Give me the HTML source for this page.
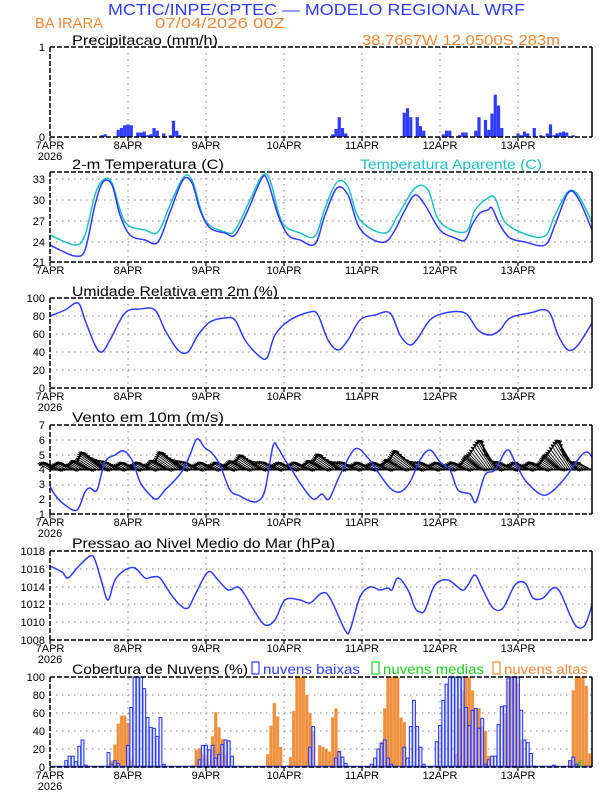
<!DOCTYPE html>
<html><head><meta charset="utf-8">
<style>
html,body{margin:0;padding:0;background:#fff;}
svg{display:block;}
text{font-family:"Liberation Sans",sans-serif;}
.t{font-size:14px;fill:#000;}
</style></head><body>
<svg id="s" width="612" height="792" viewBox="0 0 612 792" xmlns="http://www.w3.org/2000/svg">
<text x="108" y="15" font-size="16" fill="#2f3cff" textLength="417" lengthAdjust="spacingAndGlyphs">MCTIC/INPE/CPTEC — MODELO REGIONAL WRF</text>
<text x="35" y="28" font-size="15" fill="#f0883a" textLength="68" lengthAdjust="spacingAndGlyphs">BA IRARA</text>
<text x="155" y="28" font-size="15" fill="#f0883a" textLength="130" lengthAdjust="spacingAndGlyphs">07/04/2026 00Z</text>
<text x="362" y="45" font-size="15" fill="#f0883a" textLength="198" lengthAdjust="spacingAndGlyphs">38.7667W 12.0500S 283m</text>
<text class="t" x="72" y="45" textLength="146" lengthAdjust="spacingAndGlyphs">Precipitacao (mm/h)</text>
<text class="t" x="72" y="169" textLength="152" lengthAdjust="spacingAndGlyphs">2-m Temperatura (C)</text>
<text x="360" y="169" font-size="14" fill="#20c0c0" textLength="182" lengthAdjust="spacingAndGlyphs">Temperatura Aparente (C)</text>
<text class="t" x="72" y="296" textLength="206" lengthAdjust="spacingAndGlyphs">Umidade Relativa em 2m (%)</text>
<text class="t" x="72" y="422" textLength="152" lengthAdjust="spacingAndGlyphs">Vento em 10m (m/s)</text>
<text class="t" x="72" y="548" textLength="263" lengthAdjust="spacingAndGlyphs">Pressao ao Nivel Medio do Mar (hPa)</text>
<text class="t" x="72" y="674" textLength="176" lengthAdjust="spacingAndGlyphs">Cobertura de Nuvens (%)</text>
<rect x="252" y="662" width="7" height="12" fill="none" stroke="#2f3cff" stroke-width="1.2"/>
<text x="263" y="674" font-size="14" fill="#2f3cff" textLength="97" lengthAdjust="spacingAndGlyphs">nuvens baixas</text>
<rect x="372" y="662" width="7" height="12" fill="none" stroke="#20d020" stroke-width="1.2"/>
<text x="383" y="674" font-size="14" fill="#20d020" textLength="101" lengthAdjust="spacingAndGlyphs">nuvens medias</text>
<rect x="493" y="662" width="7" height="12" fill="none" stroke="#f0883a" stroke-width="1.2"/>
<text x="504" y="674" font-size="14" fill="#f0883a" textLength="84" lengthAdjust="spacingAndGlyphs">nuvens altas</text>
<g font-size="11" text-anchor="end" fill="#000">
<text x="45" y="51">1</text><text x="45" y="141">0</text>
<text x="45" y="183">33</text><text x="45" y="204">30</text><text x="45" y="225">27</text><text x="45" y="246">24</text><text x="45" y="266">21</text>
<text x="45" y="302">100</text><text x="45" y="320">80</text><text x="45" y="338">60</text><text x="45" y="356">40</text><text x="45" y="374">20</text><text x="45" y="392">0</text>
<text x="45" y="429">7</text><text x="45" y="444">6</text><text x="45" y="459">5</text><text x="45" y="473">4</text><text x="45" y="488">3</text><text x="45" y="503">2</text><text x="45" y="518">1</text>
<text x="45" y="555">1018</text><text x="45" y="573">1016</text><text x="45" y="591">1014</text><text x="45" y="608">1012</text><text x="45" y="626">1010</text><text x="45" y="644">1008</text>
<text x="45" y="681">100</text><text x="45" y="699">80</text><text x="45" y="717">60</text><text x="45" y="735">40</text><text x="45" y="753">20</text><text x="45" y="771">0</text>
</g>
<g font-size="11" text-anchor="middle" fill="#000">
<text x="50" y="149">7APR</text><text x="50" y="160">2026</text><text x="128" y="149">8APR</text><text x="206" y="149">9APR</text><text x="284" y="149">10APR</text><text x="362" y="149">11APR</text><text x="440" y="149">12APR</text><text x="518" y="149">13APR</text>
<text x="50" y="274">7APR</text><text x="128" y="274">8APR</text><text x="206" y="274">9APR</text><text x="284" y="274">10APR</text><text x="362" y="274">11APR</text><text x="440" y="274">12APR</text><text x="518" y="274">13APR</text>
<text x="50" y="400">7APR</text><text x="50" y="411">2026</text><text x="128" y="400">8APR</text><text x="206" y="400">9APR</text><text x="284" y="400">10APR</text><text x="362" y="400">11APR</text><text x="440" y="400">12APR</text><text x="518" y="400">13APR</text>
<text x="50" y="526">7APR</text><text x="50" y="537">2026</text><text x="128" y="526">8APR</text><text x="206" y="526">9APR</text><text x="284" y="526">10APR</text><text x="362" y="526">11APR</text><text x="440" y="526">12APR</text><text x="518" y="526">13APR</text>
<text x="50" y="652">7APR</text><text x="50" y="663">2026</text><text x="128" y="652">8APR</text><text x="206" y="652">9APR</text><text x="284" y="652">10APR</text><text x="362" y="652">11APR</text><text x="440" y="652">12APR</text><text x="518" y="652">13APR</text>
<text x="50" y="779">7APR</text><text x="50" y="790">2026</text><text x="128" y="779">8APR</text><text x="206" y="779">9APR</text><text x="284" y="779">10APR</text><text x="362" y="779">11APR</text><text x="440" y="779">12APR</text><text x="518" y="779">13APR</text>
</g>
<g id="g"></g>
</svg>
<script>
var NS="http://www.w3.org/2000/svg",G=document.getElementById("g");
function el(t,a){var e=document.createElementNS(NS,t);for(var k in a)e.setAttribute(k,a[k]);G.appendChild(e);return e;}
var L=50,R=592,D=78;
function X(h){return L+h*3.25;}
var panels=[[47,137,[]],[172,262,[179,200,221,242]],[298,388,[316,334,352,370]],[425,514,[440,455,470,485,499]],[551,640,[569,587,604,622]],[677,767,[695,713,731,749]]];
panels.forEach(function(p){
 for(var d=1;d<=6;d++)el("line",{x1:L+d*D,x2:L+d*D,y1:p[0],y2:p[1],stroke:"#999","stroke-dasharray":"1.5,4.5","stroke-width":1.2});
 p[2].forEach(function(y){el("line",{x1:L,x2:R,y1:y,y2:y,stroke:"#999","stroke-dasharray":"1.5,4.5","stroke-width":1.2});});
});
function smooth(pts,col,w){
 var d="M"+pts[0][0]+","+pts[0][1];
 for(var i=0;i<pts.length-1;i++){var p0=pts[Math.max(0,i-1)],p1=pts[i],p2=pts[i+1],p3=pts[Math.min(pts.length-1,i+2)];
  d+=" C"+(p1[0]+(p2[0]-p0[0])/6)+","+(p1[1]+(p2[1]-p0[1])/6)+" "+(p2[0]-(p3[0]-p1[0])/6)+","+(p2[1]-(p3[1]-p1[1])/6)+" "+p2[0]+","+p2[1];}
 el("path",{d:d,fill:"none",stroke:col,"stroke-width":w||1.5});
}
var pr=[[16,.02],[17,.03],[21,.08],[22,.1],[23,.13],[24,.14],[25,.13],[27,.05],[28,.05],[29,.06],[30,.02],[31,.03],[32,.1],[33,.07],[35,.04],[37,.02],[38,.18],[39,.07],[40,.02],[87,.03],[88,.09],[89,.22],[90,.1],[91,.04],[109,.27],[110,.32],[111,.22],[113,.22],[114,.12],[115,.07],[121,.03],[122,.07],[123,.07],[126,.02],[127,.05],[128,.05],[131,.07],[132,.22],[134,.19],[135,.08],[136,.26],[137,.47],[138,.35],[139,.1],[144,.04],[145,.02],[146,.06],[147,.04],[149,.1],[151,.02],[153,.04],[154,.14],[155,.02],[156,.04],[157,.05],[158,.06],[159,.05],[161,.02]];
pr.forEach(function(b){var h=b[1]*90;el("rect",{x:X(b[0])-1.6,y:137-h,width:3.2,height:h,fill:"#2f3cff"});});
smooth([[50,235],[75,245],[85,235],[95,195],[103,180],[112,183],[125,222],[145,230],[158,232],[170,205],[183,178],[192,180],[205,220],[225,232],[235,230],[250,200],[262,176],[270,180],[282,222],[300,233],[315,236],[325,208],[337,182],[348,187],[360,220],[385,233],[398,215],[415,188],[428,190],[440,222],[465,232],[475,210],[488,198],[495,198],[505,222],[525,234],[545,236],[555,215],[568,192],[578,195],[592,222]],"#20c0c0");
smooth([[50,245],[60,250],[75,256],[85,250],[95,205],[103,182],[112,185],[120,215],[130,235],[145,240],[158,242],[170,212],[183,180],[192,183],[200,210],[210,228],[225,233],[235,235],[248,210],[262,178],[268,182],[278,215],[288,235],[300,240],[315,244],[325,215],[337,188],[348,195],[358,225],[370,238],[385,242],[395,230],[405,210],[415,195],[425,205],[440,230],[455,238],[465,240],[472,225],[480,213],[488,210],[492,208],[500,225],[510,238],[525,242],[545,245],[555,225],[568,193],[578,198],[592,230]],"#2f3cff");
smooth([[50,316],[65,310],[78,303],[85,320],[95,345],[102,352],[110,340],[125,313],[140,309],[155,310],[165,330],[178,350],[188,352],[198,335],[210,322],[225,318],[235,320],[245,340],[258,355],[267,358],[275,335],[290,320],[310,312],[318,315],[328,340],[338,350],[348,340],[360,320],[375,315],[390,313],[400,335],[410,345],[418,338],[430,320],[445,313],[465,313],[478,330],[490,335],[500,330],[510,318],[530,313],[548,311],[558,335],[568,350],[578,345],[592,323]],"#2f3cff");
// wind barbs
for(var h=0;h<=166;h+=0.5){
 var x=X(h),frac=(h%24)/24,day=Math.floor(h/24);
 var amp=[0.8,0.8,0.6,0.65,0.85,1.0,1.0][day];
 var df=frac-0.72; if(df<-0.5)df+=1;
 var f=df<0?Math.exp(-Math.pow(df/0.2,2)):Math.exp(-Math.pow(df/0.09,2));
 var yb=470-1.5*Math.sin(h*1.3);
 var len=13+18*f*amp, ang=0.3+0.35*f*amp;
 if(day>=5) ang+=0.35*f;
 var tx=x-len*Math.cos(ang),ty=yb-3-len*Math.sin(ang);
 el("line",{x1:x,y1:yb,x2:tx,y2:ty,stroke:"#000","stroke-width":0.9});
 el("path",{d:"M"+tx+","+ty+" l4,0.5 l-1.5,3 z",fill:"#000"});
}
el("line",{x1:50,x2:592,y1:469.5,y2:469.5,stroke:"#000","stroke-width":2});
smooth([[50,486],[55,495],[65,505],[77,510],[85,492],[90,488],[97,490],[105,462],[115,455],[124,451],[133,462],[140,482],[150,495],[157,499],[165,490],[175,480],[183,470],[190,455],[197,439],[205,448],[212,453],[220,465],[230,490],[240,496],[250,501],[258,501],[265,490],[273,446],[278,448],[285,460],[292,470],[300,483],[313,499],[322,494],[329,499],[340,475],[355,449],[368,458],[378,472],[390,488],[400,492],[410,482],[420,460],[430,450],[440,462],[450,470],[458,490],[470,494],[476,502],[485,475],[495,470],[507,450],[515,462],[525,480],[540,494],[550,493],[565,478],[580,457],[587,452],[592,457]],"#2f3cff");
smooth([[50,566],[62,572],[68,578],[78,567],[90,556],[95,560],[102,583],[108,600],[115,580],[125,570],[135,568],[145,578],[152,577],[160,578],[170,593],[180,605],[188,608],[195,595],[208,572],[218,580],[228,590],[238,587],[245,595],[255,612],[265,625],[275,620],[285,600],[300,600],[310,603],[322,593],[330,598],[345,630],[350,630],[360,597],[370,587],[380,590],[388,588],[392,590],[398,578],[408,590],[415,608],[420,612],[425,610],[435,585],[448,580],[462,590],[468,585],[475,575],[483,590],[493,608],[503,608],[515,585],[525,583],[533,598],[543,598],[553,588],[560,592],[570,615],[577,627],[585,625],[592,605]],"#2f3cff");
var hi={19:7,20:25,21:48,22:57,23:57,24:49,25:8,44:2,45:19,46:21,47:14,48:13,49:3,50:34,51:61,52:44,53:31,54:15,67:14,68:46,69:71,70:56,71:22,73:2,74:11,75:62,76:100,77:100,78:100,79:80,80:60,81:40,83:24,84:22,85:20,86:17,87:55,88:65,89:18,102:28,103:65,104:100,105:100,106:100,107:100,108:55,109:50,125:15,126:65,127:85,128:100,129:100,130:85,131:65,132:65,133:45,134:40,135:12,140:60,141:95,142:100,143:100,144:92,145:30,160:7,161:85,162:100,163:100,164:100,165:90,166:15};
for(var k in hi){var v=hi[k]*0.9;el("rect",{x:X(+k)-1.5,y:767-v,width:3,height:v,fill:"#f0903f",stroke:"#f4b070","stroke-width":0.5});}
var lo={5:7,6:12,7:12,8:6,9:23,10:30,11:2,18:16,19:3,20:7,21:4,24:24,25:66,26:100,27:100,28:100,29:87,30:55,31:44,32:43,33:34,34:55,35:3,46:8,47:24,48:24,49:19,50:24,51:10,52:14,53:25,54:30,55:29,56:12,80:22,81:45,88:10,89:17,90:11,91:4,99:3,100:10,101:20,102:26,103:30,104:10,105:3,109:22,110:10,111:45,112:74,113:45,114:22,115:3,119:28,120:46,121:74,122:92,123:100,124:100,125:100,126:100,127:100,128:66,129:46,130:63,131:65,132:43,133:54,134:3,135:8,136:12,137:12,138:47,139:67,140:68,141:98,142:100,143:100,144:100,145:63,146:30,147:27,148:15,149:1,155:2,160:7,161:11,162:3};
for(var k in lo){var v=lo[k]*0.9;el("rect",{x:X(+k)-1.4,y:767-v,width:2.8,height:v,fill:"rgba(210,220,255,0.5)",stroke:"#2f3cff","stroke-width":1.1});}
el("line",{x1:50,x2:592,y1:766.5,y2:766.5,stroke:"#2f3cff","stroke-width":1.5});
el("rect",{x:X(163)-1,y:762,width:2,height:5,fill:"none",stroke:"#20d020","stroke-width":1});
panels.forEach(function(p){
 el("line",{x1:L,x2:R,y1:p[0],y2:p[0],stroke:"#000","stroke-width":1.5,"stroke-dasharray":"5,2"});
 el("line",{x1:L,x2:R,y1:p[1],y2:p[1],stroke:"#000","stroke-width":1.5,"stroke-dasharray":"5,2"});
 el("line",{x1:L,x2:L,y1:p[0],y2:p[1],stroke:"#000","stroke-width":1.5,"stroke-dasharray":"5,2"});
 el("line",{x1:R,x2:R,y1:p[0],y2:p[1],stroke:"#000","stroke-width":1.5});
 for(var d=0;d<=6;d++)el("line",{x1:L+d*D,x2:L+d*D,y1:p[1],y2:p[1]+4,stroke:"#000","stroke-width":1.2});
});
</script>
</body></html>
